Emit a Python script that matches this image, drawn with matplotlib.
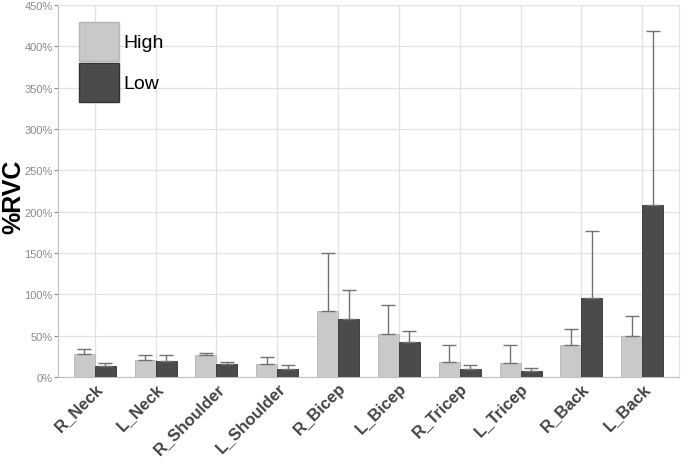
import numpy as np
from matplotlib import pyplot as plt
from matplotlib.patches import Patch
from matplotlib.ticker import FuncFormatter

plt.rcParams['font.family'] = ['Liberation Sans', 'DejaVu Sans']

muscles = ["R_Neck", "L_Neck", "R_Shoulder", "L_Shoulder", "R_Bicep",
           "L_Bicep", "R_Tricep", "L_Tricep", "R_Back", "L_Back"]
high_mean = [27.6, 20.7, 26.8, 15.9, 79.7, 52.4, 18.2, 17.3, 38.3, 49.6]
high_sd = [6.1, 6.5, 2.1, 8.1, 69.9, 35.1, 20.1, 21.0, 20.2, 23.8]
low_mean = [13.4, 19.9, 16.3, 10.2, 70.3, 42.4, 10.0, 8.0, 96.0, 207.8]
low_sd = [3.3, 6.5, 2.4, 4.0, 34.6, 13.3, 5.3, 2.9, 80.3, 210.6]

col_high = "#c9c9c9"
col_low = "#4b4b4b"

fig = plt.figure(figsize=(6.85, 4.64), dpi=100)
ax = fig.add_axes([0.085, 0.185, 0.906, 0.802])

x = np.arange(1, len(muscles) + 1)
w = 0.345

ax.bar(x - w / 2, high_mean, w, color=col_high, edgecolor="#b5b5b5", linewidth=0.6, zorder=3)
ax.bar(x + w / 2, low_mean, w, color=col_low, edgecolor="#333333", linewidth=0.6, zorder=3)

# upper error bars only
ax.errorbar(x - w / 2, high_mean, yerr=[np.zeros(len(x)), high_sd], fmt="none",
            ecolor="#727272", elinewidth=1, capsize=5, capthick=1, zorder=4)
ax.errorbar(x + w / 2, low_mean, yerr=[np.zeros(len(x)), low_sd], fmt="none",
            ecolor="#727272", elinewidth=1, capsize=5, capthick=1, zorder=4)

ax.set_xlim(0.4, 10.6)
ax.set_ylim(0, 450)
ax.set_yticks(np.arange(0, 451, 50))
ax.yaxis.set_major_formatter(FuncFormatter(lambda v, p: f"{int(v)}%"))
ax.set_xticks(x)
ax.set_xticklabels(muscles, rotation=45, ha="right", rotation_mode="anchor",
                   fontsize=12, fontweight="bold", color="#444444")
ax.tick_params(axis="y", labelsize=8, colors="#8a8a8a", length=3, pad=1)
ax.tick_params(axis="x", length=0, pad=2)

ax.grid(True, color="#e2e2e2", linewidth=0.9, zorder=0)
ax.set_axisbelow(True)
for s in ["top", "right"]:
    ax.spines[s].set_color("#e2e2e2")
for s in ["left", "bottom"]:
    ax.spines[s].set_color("#c0c0c0")

ax.set_ylabel("%RVC", fontsize=18, fontweight="bold", color="black")
ax.yaxis.set_label_coords(-0.053, 0.487)

handles = [Patch(facecolor=col_high, edgecolor="#b5b5b5"),
           Patch(facecolor=col_low, edgecolor="#333333")]
leg = ax.legend(handles, ["High", "Low"], loc="upper left", bbox_to_anchor=(0.034, 0.955),
                fontsize=14, frameon=False, handlelength=2.05, handleheight=2.7,
                labelspacing=0.12, handletextpad=0.2, borderaxespad=0, borderpad=0)

fig.savefig("out.png", dpi=100)
